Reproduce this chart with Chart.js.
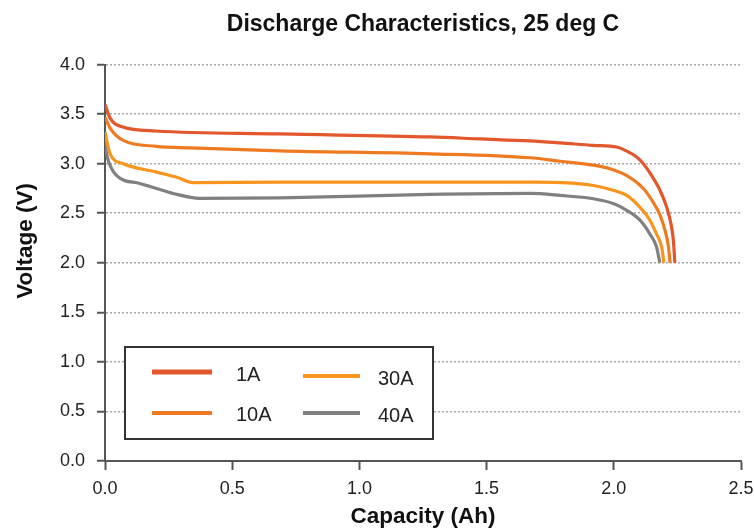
<!DOCTYPE html>
<html>
<head>
<meta charset="utf-8">
<script src="https://cdn.jsdelivr.net/npm/chart.js@4/dist/chart.umd.min.js"></script>
<style>
html,body{margin:0;padding:0;background:#fff;}
#wrap{width:754px;height:531px;}
</style>
</head>
<body>
<div id="wrap"><canvas id="c" width="754" height="531"></canvas></div>
<script>
// ---- data ----
const seriesLabels = ['1A', '10A', '30A', '40A'];
const seriesColors = ['#E2572B', '#EE7B22', '#F7951F', '#808080'];

const cap1A  = [0, 0.02, 0.07, 0.2, 0.688, 1.277, 1.474, 1.67, 1.79, 1.92, 2.011, 2.051, 2.09, 2.116, 2.149, 2.182, 2.208, 2.225, 2.234, 2.24];
const volt1A = [3.60, 3.46, 3.37, 3.33, 3.30, 3.27, 3.25, 3.23, 3.21, 3.185, 3.168, 3.127, 3.067, 3.00, 2.88, 2.73, 2.56, 2.39, 2.23, 2.00];

const cap10A  = [0, 0.02, 0.072, 0.203, 0.334, 0.688, 1.277, 1.67, 1.79, 1.92, 1.985, 2.051, 2.116, 2.155, 2.182, 2.201, 2.215, 2.221];
const volt10A = [3.47, 3.36, 3.235, 3.175, 3.16, 3.13, 3.10, 3.06, 3.025, 2.985, 2.95, 2.88, 2.75, 2.61, 2.48, 2.33, 2.16, 2.00];

const cap30A  = [0, 0.02, 0.072, 0.203, 0.28, 0.347, 0.688, 1.474, 1.70, 1.79, 1.92, 2.0, 2.051, 2.103, 2.142, 2.168, 2.188, 2.197];
const volt30A = [3.32, 3.10, 3.00, 2.915, 2.865, 2.81, 2.815, 2.815, 2.815, 2.81, 2.78, 2.73, 2.68, 2.56, 2.43, 2.29, 2.16, 2.00];

const cap40A  = [0, 0.005, 0.013, 0.046, 0.137, 0.203, 0.268, 0.373, 0.688, 1.277, 1.67, 1.79, 1.92, 2.0, 2.051, 2.103, 2.142, 2.168, 2.181];
const volt40A = [3.24, 3.12, 3.03, 2.88, 2.80, 2.75, 2.70, 2.65, 2.655, 2.69, 2.70, 2.68, 2.646, 2.596, 2.53, 2.43, 2.29, 2.16, 2.00];

const xTickValues = [0, 0.5, 1.0, 1.5, 2.0, 2.5];
const yTickValues = [0, 0.5, 1.0, 1.5, 2.0, 2.5, 3.0, 3.5, 4.0];

const titleText = 'Discharge Characteristics, 25 deg C';
const xTitle = 'Capacity (Ah)';
const yTitle = 'Voltage (V)';

// ---- build ----
const caps = [cap1A, cap10A, cap30A, cap40A];
const volts = [volt1A, volt10A, volt30A, volt40A];
const FONT = '"Liberation Sans", Arial, sans-serif';

const datasets = seriesLabels.map((lab, i) => ({
  label: lab,
  data: caps[i].map((c, j) => ({x: c, y: volts[i][j]})),
  borderColor: seriesColors[i],
  backgroundColor: seriesColors[i],
  borderWidth: 3.2,
  pointRadius: 0,
  cubicInterpolationMode: 'monotone',
  fill: false
}));

const boxLegend = {
  id: 'boxLegend',
  afterDraw(chart) {
    const ctx = chart.ctx;
    const bx = 125, by = 347, bw = 308, bh = 92;
    ctx.save();
    ctx.fillStyle = '#ffffff';
    ctx.fillRect(bx, by, bw, bh);
    ctx.strokeStyle = '#333333';
    ctx.lineWidth = 2;
    ctx.strokeRect(bx, by, bw, bh);
    // column-major slots: [lineX1, lineX2, lineY, textX, textY, lineW]
    const slots = [
      [152, 212, 372, 236, 375, 5],
      [152, 212, 413, 236, 415, 4],
      [303, 360, 376, 378, 379, 4],
      [303, 360, 413, 378, 416, 4]
    ];
    ctx.font = '20px ' + FONT;
    ctx.textBaseline = 'middle';
    ctx.textAlign = 'left';
    chart.data.datasets.forEach((ds, i) => {
      const s = slots[i];
      ctx.strokeStyle = ds.borderColor;
      ctx.lineWidth = s[5];
      ctx.beginPath();
      ctx.moveTo(s[0], s[2]);
      ctx.lineTo(s[1], s[2]);
      ctx.stroke();
      ctx.fillStyle = '#222222';
      ctx.fillText(ds.label, s[3], s[4]);
    });
    ctx.restore();
  }
};

new Chart(document.getElementById('c'), {
  type: 'line',
  data: {datasets},
  plugins: [boxLegend],
  options: {
    responsive: false,
    animation: false,
    devicePixelRatio: 1,
    layout: {padding: {left: 0, right: 13, top: 0, bottom: 0}},
    plugins: {
      legend: {display: false},
      tooltip: {enabled: false},
      title: {
        display: true,
        text: titleText,
        fullSize: false,
        color: '#111111',
        font: {family: FONT, size: 23, weight: 'bold'},
        padding: {top: 11, bottom: 26}
      }
    },
    scales: {
      x: {
        type: 'linear',
        min: 0, max: 2.5,
        afterBuildTicks: s => { s.ticks = xTickValues.map(v => ({value: v})); },
        afterFit: s => { s.height = 70; s.paddingRight = 13; s.paddingLeft = 0; },
        ticks: {
          color: '#222222',
          font: {family: FONT, size: 18},
          padding: 8,
          maxRotation: 0,
          callback: v => Number(v).toFixed(1)
        },
        grid: {
          drawOnChartArea: false,
          drawTicks: true,
          tickLength: 9,
          tickColor: '#555555',
          tickWidth: 2,
          tickBorderDash: []
        },
        border: {display: true, color: '#555555', width: 2},
        title: {
          display: true,
          text: xTitle,
          color: '#111111',
          font: {family: FONT, size: 22.5, weight: 'bold'},
          padding: {top: 0, bottom: 1}
        }
      },
      y: {
        type: 'linear',
        min: 0, max: 4,
        afterBuildTicks: s => { s.ticks = yTickValues.map(v => ({value: v})); },
        afterFit: s => { s.width = 105; },
        ticks: {
          color: '#222222',
          font: {family: FONT, size: 18},
          padding: 12,
          callback: v => Number(v).toFixed(1)
        },
        grid: {
          drawOnChartArea: true,
          drawTicks: true,
          tickLength: 8,
          color: '#a8a8a8',
          lineWidth: 1.5,
          tickColor: '#555555',
          tickWidth: 2,
          tickBorderDash: []
        },
        border: {display: true, color: '#555555', width: 2, dash: [2, 2]},
        title: {
          display: true,
          text: '       ' + yTitle,
          color: '#111111',
          font: {family: FONT, size: 22.5, weight: 'bold'},
          padding: {top: 12, bottom: 0}
        }
      }
    }
  }
});
</script>
</body>
</html>
